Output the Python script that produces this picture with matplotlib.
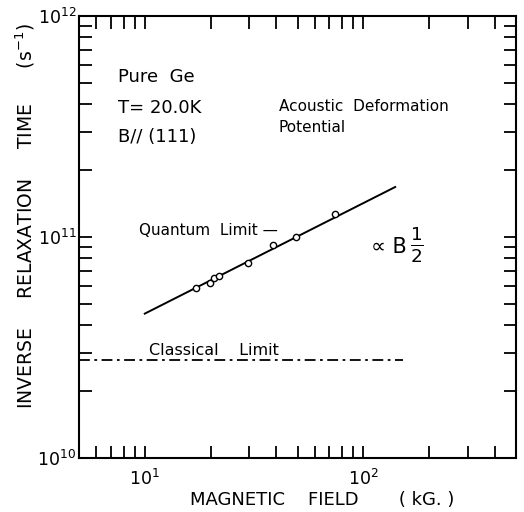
import numpy as np
import matplotlib.pyplot as plt
from matplotlib.ticker import FixedLocator, NullFormatter

# datos medidos (B en kG, 1/tau en s^-1)
campo = [17.1, 19.9, 20.7, 21.8, 29.7, 38.7, 49.3, 74.0]
tasa = [5.86e10, 6.21e10, 6.50e10, 6.68e10, 7.60e10, 9.17e10, 1.00e11, 1.27e11]

# ajuste proporcional a B^(1/2)
ajuste_b = [10, 140]
ajuste_a = 4.5e10  # valor en B = 10 kG

# limite clasico
clasico_b = [5, 152]
clasico_v = [2.77e10, 2.77e10]

W, H = 524, 512


def px(x, y):
    return x / W, 1 - y / H


fig = plt.figure(figsize=(W / 100, H / 100), dpi=100)
ax = fig.add_axes([79 / W, 1 - 458 / H, (516 - 79) / W, (458 - 16) / H])

b_fit = np.array(ajuste_b, dtype=float)
ax.plot(b_fit, ajuste_a * np.sqrt(b_fit / 10), color='black', lw=1.4)
ax.plot(campo, tasa, 'o', mfc='white', mec='black', ms=4.5, mew=1.0)
ax.plot(clasico_b, clasico_v, color='black', lw=1.3,
        linestyle=(0, (6, 2.5, 1.5, 2.5)))

ax.set_xscale('log')
ax.set_yscale('log')
ax.set_xlim(5, 500)
ax.set_ylim(1e10, 1e12)

ax.xaxis.set_major_locator(FixedLocator([10, 100]))
ax.xaxis.set_minor_locator(FixedLocator([6, 7, 8, 9, 20, 30, 40, 50, 60, 70, 80, 90, 200, 300, 400]))
ax.xaxis.set_minor_formatter(NullFormatter())
ax.yaxis.set_major_locator(FixedLocator([1e10, 1e11, 1e12]))
ax.yaxis.set_minor_locator(FixedLocator([k * 10.0 ** e for e in (10, 11) for k in range(2, 10)]))
ax.yaxis.set_minor_formatter(NullFormatter())
ax.set_xticklabels([r'$10^1$', r'$10^2$'])
ax.set_yticklabels([r'$10^{10}$', r'$10^{11}$', r'$10^{12}$'])

for s in ax.spines.values():
    s.set_linewidth(1.5)
ax.tick_params(which='both', direction='in', top=True, right=True,
               length=9, width=1.3, labelsize=12.5)
ax.tick_params(axis='x', pad=8)
ax.tick_params(axis='y', pad=2)

# textos
fs = 13
fig.text(*px(118, 82), 'Pure  Ge', fontsize=13)
fig.text(*px(118, 113), 'T= 20.0K', fontsize=13)
fig.text(*px(118, 142), 'B// (111)', fontsize=13)
fig.text(*px(279, 111), 'Acoustic  Deformation', fontsize=11)
fig.text(*px(279, 132), 'Potential', fontsize=11)
fig.text(*px(139, 235), 'Quantum  Limit —', fontsize=11)
fig.text(*px(149, 355), 'Classical    Limit', fontsize=11.5)
fig.text(*px(371, 253), '∝ B', fontsize=15)
fig.text(*px(410, 253), r'$\frac{1}{2}$', fontsize=19)

fig.text(*px(322, 505), 'MAGNETIC    FIELD       ( kG. )', fontsize=fs, ha='center')
fig.text(*px(25, 216), r'INVERSE     RELAXATION     TIME      (s$^{-1}$)', fontsize=13.5,
         rotation=90, ha='center', va='center')

plt.savefig('out.png', dpi=100)
